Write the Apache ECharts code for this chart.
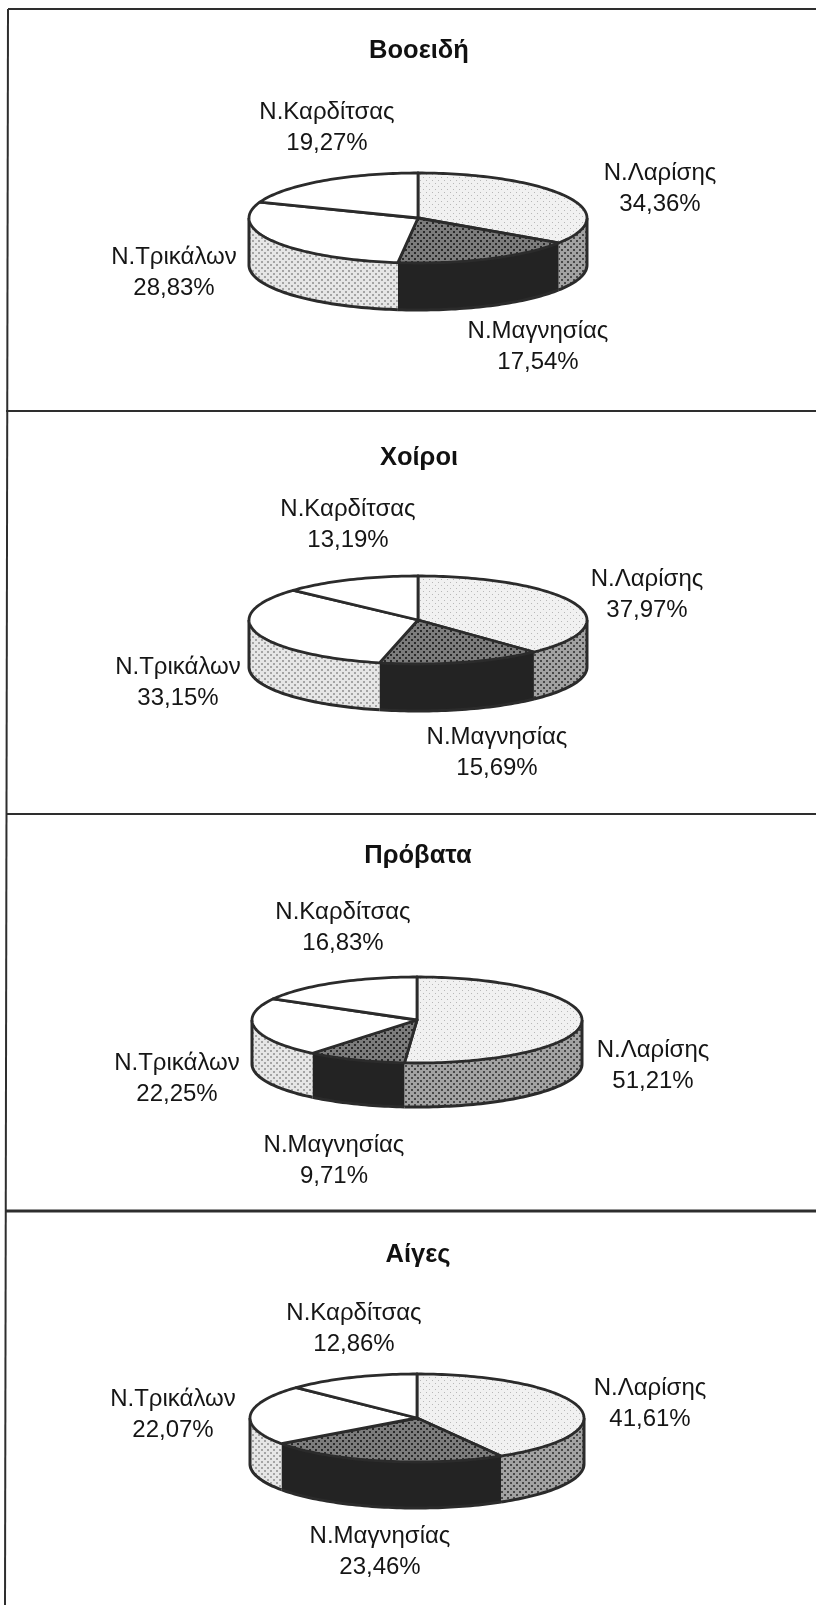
<!DOCTYPE html>
<html><head><meta charset="utf-8">
<style>html,body{margin:0;padding:0;background:#fff}#c{width:816px;height:1605px;filter:blur(0.6px)}</style>
<script src="https://cdn.jsdelivr.net/npm/echarts@6/dist/echarts.min.js"></script>
</head><body><div id="c"></div>
<script>
// ---- data ----
const regions = ['Ν.Λαρίσης','Ν.Μαγνησίας','Ν.Τρικάλων','Ν.Καρδίτσας'];
const titles = ['Βοοειδή','Χοίροι','Πρόβατα','Αίγες'];
const cattle = [34.36,17.54,28.83,19.27];
const pigs   = [37.97,15.69,33.15,13.19];
const sheep  = [51.21,9.71,22.25,16.83];
const goats  = [41.61,23.46,22.07,12.86];
const panelValues = [cattle,pigs,sheep,goats];

// ---- layout ----
const pies = [
 {cx:418,cy:218,rx:169,ry:45,d:47,ty:51},
 {cx:418,cy:620,rx:169,ry:44,d:47,ty:458},
 {cx:417,cy:1020,rx:165,ry:43,d:44,ty:856},
 {cx:417,cy:1418,rx:167,ry:44,d:46,ty:1255}
];
const labelPos = [
 [[660,189],[538,347],[174,273],[327,128]],
 [[647,595],[497,753],[178,683],[348,525]],
 [[653,1066],[334,1161],[177,1079],[343,928]],
 [[650,1404],[380,1552],[173,1415],[354,1329]]
];
function pat(bg,dot,step,size){
  const c=document.createElement('canvas');c.width=c.height=step*2;
  const g=c.getContext('2d');g.fillStyle=bg;g.fillRect(0,0,step*2,step*2);g.fillStyle=dot;
  g.fillRect(0,0,size,size);g.fillRect(step,step,size,size);
  return {image:c,repeat:'repeat'};
}
const topFill=[pat('#f1f1f1','#b8b8b8',3,1),pat('#7c7c7c','#2a2a2a',3,2),'#ffffff','#ffffff'];
const sideFill=[pat('#a2a2a2','#484848',3,2),'#232323',pat('#e6e6e6','#a4a4a4',3,2),'#e6e6e6'];
const lineC='#2b2b2b';
const TAU=Math.PI*2;
const font='"Liberation Sans",Arial,sans-serif';

function pt(p,t,dy){return [p.cx+p.rx*Math.sin(t),p.cy-p.ry*Math.cos(t)+(dy||0)];}
function arc(p,a,b,dy){const n=Math.max(2,Math.ceil(Math.abs(b-a)/0.025));const r=[];
  for(let i=0;i<=n;i++)r.push(pt(p,a+(b-a)*i/n,dy));return r;}

function makeRender(pi){
  const p=pies[pi];
  return function(params,api){
    const i=params.dataIndex,val=api.value(0),st=api.value(1);
    const t0=st/100*TAU,t1=(st+val)/100*TAU;
    const ch=[];
    const a=Math.max(t0,Math.PI/2),b=Math.min(t1,Math.PI*1.5);
    if(b>a){
      const upper=arc(p,a,b,0),lower=arc(p,b,a,p.d);
      ch.push({type:'polygon',shape:{points:upper.concat(lower)},style:{fill:sideFill[i],stroke:null}});
      ch.push({type:'polyline',shape:{points:arc(p,a,b,p.d)},style:{fill:null,stroke:lineC,lineWidth:3}});
      if(a===Math.PI/2)ch.push({type:'polyline',shape:{points:[pt(p,a,0),pt(p,a,p.d)]},style:{fill:null,stroke:lineC,lineWidth:3}});
      if(b===Math.PI*1.5)ch.push({type:'polyline',shape:{points:[pt(p,b,0),pt(p,b,p.d)]},style:{fill:null,stroke:lineC,lineWidth:3}});
    }
    ch.push({type:'polygon',shape:{points:[[p.cx,p.cy]].concat(arc(p,t0,t1,0))},
      style:{fill:topFill[i],stroke:lineC,lineWidth:2.8,lineJoin:'round'}});
    const lp=labelPos[pi][i];
    ch.push({type:'text',x:lp[0],y:lp[1],z2:10,style:{
      text:regions[i]+'\n'+val.toFixed(2).replace('.',',')+'%',
      fontFamily:font,fontSize:24,lineHeight:30.5,
      fill:'#151515',align:'center',verticalAlign:'middle'}});
    return {type:'group',children:ch};
  };
}
const series=panelValues.map((vals,pi)=>{
  let acc=0;
  const data=vals.map(v=>{const d=[v,acc];acc+=v;return d;});
  return {type:'custom',coordinateSystem:'none',data,silent:true,animation:false,
          clip:false,renderItem:makeRender(pi)};
});
const rule=(x1,y1,x2,y2,w)=>({type:'line',shape:{x1,y1,x2,y2},style:{stroke:'#2e2e2e',lineWidth:w},silent:true});
const titleEls=titles.map((t,i)=>({type:'text',x:pies[i].cx+1,y:pies[i].ty,silent:true,
  style:{text:t,fontFamily:font,fontWeight:'bold',fontSize:25.5,fill:'#111',align:'center',verticalAlign:'middle'}}));
const option={
  backgroundColor:'#ffffff',animation:false,
  graphic:[rule(8,9,816,9,2),rule(8,9,5,1605,2),rule(6,411,816,411,2),rule(6,814,816,814,2),rule(5,1211,816,1211,3)].concat(titleEls),
  series
};
const chart=echarts.init(document.getElementById('c'),null,{renderer:'canvas'});
chart.setOption(option);
</script></body></html>
